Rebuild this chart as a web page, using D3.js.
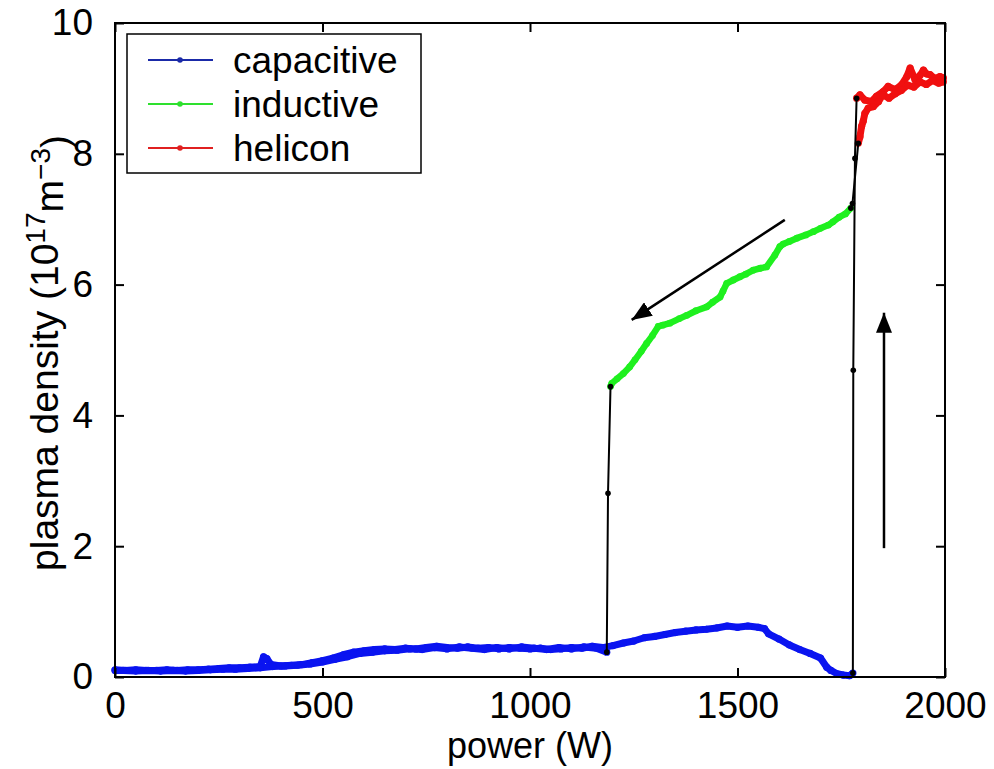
<!DOCTYPE html>
<html>
<head>
<meta charset="utf-8">
<script src="https://cdn.jsdelivr.net/npm/d3@7"></script>
<style>
  body { margin: 0; background: #fff; }
  text { font-family: "Liberation Sans", Arial, sans-serif; }
</style>
</head>
<body>
<svg id="chart" width="994" height="769"></svg>
<script>
// capacitive mode, power going up (W, 1e17 m^-3)
var capUp = [
    [0, 0.11], [25, 0.10], [50, 0.11], [75, 0.10], [100, 0.10], [125, 0.11], [150, 0.10], [175, 0.11],
    [200, 0.11], [225, 0.12], [250, 0.13], [275, 0.14], [300, 0.14], [325, 0.15], [350, 0.16], [358, 0.31],
    [366, 0.28], [376, 0.19], [400, 0.17], [425, 0.18], [450, 0.19], [475, 0.22], [500, 0.25], [525, 0.29],
    [550, 0.34], [575, 0.38], [600, 0.40], [625, 0.42], [650, 0.43], [675, 0.42], [700, 0.44], [725, 0.43],
    [750, 0.45], [775, 0.47], [800, 0.45], [825, 0.44], [850, 0.46], [875, 0.44], [900, 0.45], [925, 0.43],
    [950, 0.45], [975, 0.44], [1000, 0.43], [1025, 0.44], [1050, 0.42], [1075, 0.43], [1100, 0.45], [1125, 0.44],
    [1150, 0.47], [1175, 0.45], [1200, 0.48], [1225, 0.52], [1250, 0.55], [1275, 0.60], [1300, 0.62], [1325, 0.65],
    [1350, 0.68], [1375, 0.70], [1400, 0.72], [1425, 0.73], [1450, 0.75], [1475, 0.78], [1500, 0.76], [1525, 0.78],
    [1550, 0.76], [1565, 0.74], [1575, 0.66], [1600, 0.58], [1625, 0.49], [1650, 0.42], [1675, 0.36], [1700, 0.29],
    [1715, 0.15], [1725, 0.10], [1740, 0.05], [1755, 0.03], [1770, 0.02], [1778, 0.06]
];
// capacitive mode, power going down
var capDown = [
    [1185, 0.38], [1160, 0.44], [1130, 0.46], [1100, 0.43], [1070, 0.45], [1040, 0.42], [1010, 0.44], [980, 0.46],
    [950, 0.43], [920, 0.45], [890, 0.42], [860, 0.44], [830, 0.46], [800, 0.43], [770, 0.45], [740, 0.42],
    [710, 0.43], [680, 0.41], [650, 0.40], [620, 0.38], [590, 0.36], [560, 0.31], [530, 0.27], [500, 0.23],
    [470, 0.20], [440, 0.18], [410, 0.17], [380, 0.16], [350, 0.14], [320, 0.13], [290, 0.12], [260, 0.12],
    [230, 0.11], [200, 0.10], [170, 0.09], [140, 0.10], [110, 0.09], [80, 0.10], [50, 0.09], [20, 0.10], [0, 0.10]
];
// inductive mode (power going down)
var inductive = [
    [1773, 7.17], [1760, 7.08], [1745, 7.03], [1730, 6.96], [1719, 6.91], [1700, 6.86], [1683, 6.81], [1665, 6.76],
    [1643, 6.71], [1625, 6.66], [1610, 6.62], [1602, 6.58], [1590, 6.45], [1570, 6.27], [1555, 6.25], [1538, 6.22],
    [1520, 6.16], [1506, 6.12], [1490, 6.07], [1474, 6.02], [1465, 5.90], [1458, 5.81], [1440, 5.73], [1426, 5.66],
    [1400, 5.60], [1378, 5.53], [1360, 5.48], [1337, 5.41], [1320, 5.38], [1309, 5.36], [1295, 5.22], [1281, 5.10],
    [1268, 4.98], [1253, 4.85], [1240, 4.74], [1225, 4.64], [1210, 4.56], [1197, 4.49], [1194, 4.44]
];
// helicon mode, up then down
var heliconUp = [
    [1787, 8.85], [1795, 8.90], [1807, 8.82], [1823, 8.80], [1835, 8.88], [1851, 8.95], [1863, 9.03], [1880, 8.98],
    [1896, 9.06], [1908, 9.18], [1916, 9.31], [1928, 9.13], [1940, 9.20], [1948, 9.28], [1956, 9.22], [1964, 9.21],
    [1976, 9.15], [1988, 9.18], [1996, 9.16]
];
var heliconDown = [
    [1996, 9.10], [1985, 9.08], [1970, 9.12], [1955, 9.06], [1940, 9.10], [1925, 9.02], [1910, 9.05], [1895, 8.97],
    [1880, 8.92], [1865, 8.85], [1850, 8.90], [1840, 8.80], [1827, 8.72], [1815, 8.70], [1807, 8.62], [1803, 8.50],
    [1799, 8.42], [1795, 8.26], [1791, 8.16]
];
// jumps between modes (black)
var jumps = [
    [[1778, 0.06], [1779, 4.69], [1783, 7.93], [1787, 8.85]],
    [[1791, 8.16], [1777, 7.24], [1773, 7.17]],
    [[1194, 4.44], [1188, 2.81], [1185, 0.38]]
];
// arrows (tail, tip) in data units
var arrows = [
    [[1614, 6.99], [1245, 5.46]],
    [[1853, 1.97], [1853, 5.57]]
];

var xTicks = [0, 500, 1000, 1500, 2000];
var yTicks = [0, 2, 4, 6, 8, 10];
var legendNames = ["capacitive", "inductive", "helicon"];
var colors = {capacitive: "#0a14f0", inductive: "#1ff01f", helicon: "#f01010"};
var legendColors = ["#1a2aa8", "#2ee02e", "#e02020"];

var svg = d3.select("#chart");
var margin = {top: 23, right: 49, bottom: 92, left: 115},
    width = 994 - margin.left - margin.right,
    height = 769 - margin.top - margin.bottom;

svg.append("rect").attr("width", 994).attr("height", 769).attr("fill", "#fff");

var x = d3.scaleLinear().domain([0, 2000]).range([0, width]);
var y = d3.scaleLinear().domain([0, 10]).range([height, 0]);

var g = svg.append("g").attr("transform", `translate(${margin.left},${margin.top})`);

var line = d3.line().x(d => x(d[0])).y(d => y(d[1]));

// series with thick noisy look
var drawSeries = function (data, color, w, r) {
    g.append("path")
        .datum(data)
        .attr("d", line)
        .attr("fill", "none")
        .attr("stroke", color)
        .attr("stroke-width", w)
        .attr("stroke-linejoin", "round");
    g.append("g").selectAll("circle")
        .data(data)
        .join("circle")
        .attr("cx", d => x(d[0]))
        .attr("cy", d => y(d[1]))
        .attr("r", r)
        .attr("fill", color);
}

drawSeries(capUp, colors.capacitive, 7, 3.6);
drawSeries(capDown, colors.capacitive, 7, 3.6);
drawSeries(inductive, colors.inductive, 6.5, 3.4);
drawSeries(heliconUp, colors.helicon, 7, 3.6);
drawSeries(heliconDown, colors.helicon, 7, 3.6);

jumps.forEach(function (j) {
    drawSeries(j, "#000", 2, 2.8);
});

// arrows
svg.append("defs").append("marker")
    .attr("id", "head")
    .attr("viewBox", "0 0 20 16")
    .attr("refX", 20).attr("refY", 8)
    .attr("markerWidth", 20).attr("markerHeight", 16)
    .attr("markerUnits", "userSpaceOnUse")
    .attr("orient", "auto")
    .append("path").attr("d", "M0,0L20,8L0,16Z").attr("fill", "#000");

arrows.forEach(function (a) {
    g.append("line")
        .attr("x1", x(a[0][0])).attr("y1", y(a[0][1]))
        .attr("x2", x(a[1][0])).attr("y2", y(a[1][1]))
        .attr("stroke", "#000").attr("stroke-width", 2.5)
        .attr("marker-end", "url(#head)");
});

// axes, matlab style ticks pointing in
var fontSize = 37;
var fmt = d3.format("d");
var xAxis = g.append("g").attr("transform", `translate(0,${height})`)
    .call(d3.axisBottom(x).tickValues(xTicks).tickFormat(fmt).tickSizeInner(-9).tickSizeOuter(0).tickPadding(15));
var xTop = g.append("g")
    .call(d3.axisTop(x).tickValues(xTicks).tickSizeInner(-9).tickSizeOuter(0).tickFormat(""));
var yAxis = g.append("g")
    .call(d3.axisLeft(y).tickValues(yTicks).tickFormat(fmt).tickSizeInner(-9).tickSizeOuter(0).tickPadding(22));
var yRight = g.append("g").attr("transform", `translate(${width},0)`)
    .call(d3.axisRight(y).tickValues(yTicks).tickSizeInner(-9).tickSizeOuter(0).tickFormat(""));

[xAxis, xTop, yAxis, yRight].forEach(function (a) {
    a.select(".domain").remove();
    a.selectAll("line").attr("stroke", "#000").attr("stroke-width", 2);
    a.selectAll("text")
        .attr("fill", "#000")
        .style("font-size", fontSize + "px")
        .style("font-family", "'Liberation Sans', Arial, sans-serif");
});
xAxis.selectAll("text").attr("dy", "0.71em");

g.append("rect")
    .attr("width", width).attr("height", height)
    .attr("fill", "none").attr("stroke", "#000").attr("stroke-width", 2);

// axis labels
svg.append("text")
    .attr("x", margin.left + width / 2)
    .attr("y", 758)
    .attr("text-anchor", "middle")
    .style("font-size", "36px")
    .text("power (W)");

var yl = svg.append("text")
    .attr("transform", `translate(58,${margin.top + height / 2 + 3}) rotate(-90)`)
    .attr("text-anchor", "middle")
    .style("font-size", "39px");
yl.append("tspan").text("plasma density (10");
yl.append("tspan").attr("dy", "-0.45em").style("font-size", "28px").text("17");
yl.append("tspan").attr("dy", "0.45em").text("m");
yl.append("tspan").attr("dy", "-0.45em").style("font-size", "28px").text("\u22123");
yl.append("tspan").attr("dy", "0.45em").text(")");

// legend
var leg = svg.append("g").attr("transform", "translate(127,34)");
leg.append("rect")
    .attr("width", 294).attr("height", 139)
    .attr("fill", "#fff").attr("stroke", "#000").attr("stroke-width", 1.5);
var rows = leg.selectAll("g.row")
    .data(legendNames)
    .join("g")
    .attr("class", "row")
    .attr("transform", (d, i) => `translate(0,${26 + i * 44})`);
rows.append("line")
    .attr("x1", 21).attr("x2", 86)
    .attr("stroke", (d, i) => legendColors[i]).attr("stroke-width", 2);
rows.append("circle")
    .attr("cx", 53).attr("r", 2.8)
    .attr("fill", (d, i) => legendColors[i]);
rows.append("text")
    .attr("x", 106).attr("dy", "0.35em")
    .style("font-size", fontSize + "px")
    .text(d => d);
</script>
</body>
</html>
